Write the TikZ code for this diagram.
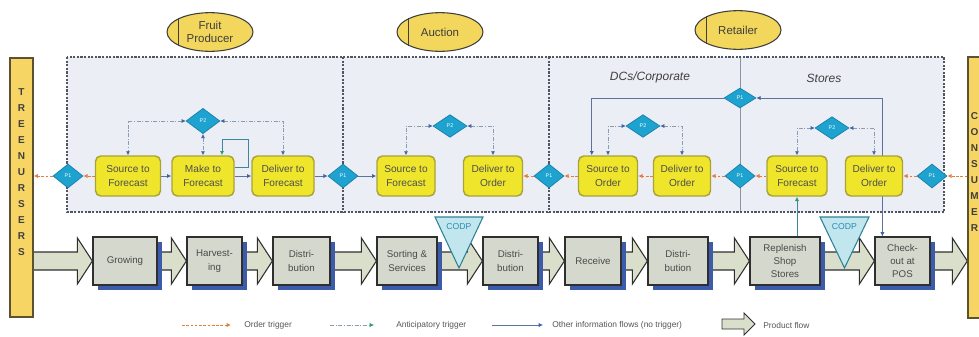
\documentclass[tikz,border=0pt]{standalone}
\usepackage{fontspec}
\setmainfont{Liberation Sans}
\usetikzlibrary{shapes.geometric,calc,arrows.meta,shadows}
\pgfdeclarelayer{back}
\pgfdeclarelayer{lines}
\pgfsetlayers{back,lines,main}

\definecolor{framefill}{HTML}{ECEEF6}
\definecolor{framedraw}{HTML}{50555F}
\definecolor{procfill}{HTML}{EFE62C}
\definecolor{procdraw}{HTML}{A9A23A}
\definecolor{proctext}{HTML}{4D4D4D}
\definecolor{actorfill}{HTML}{F3D65C}
\definecolor{ink}{HTML}{3F3F3F}
\definecolor{barfill}{HTML}{F6D564}
\definecolor{bardraw}{HTML}{5C5230}
\definecolor{diafill}{HTML}{1EA2CF}
\definecolor{diadraw}{HTML}{177EA6}
\definecolor{stagefill}{HTML}{D5D8CD}
\definecolor{stagedraw}{HTML}{2F2F2F}
\definecolor{stagetext}{HTML}{4A4A4A}
\definecolor{shadowblue}{HTML}{3C5BAA}
\definecolor{flowfill}{HTML}{D9DFCB}
\definecolor{codpfill}{HTML}{C2E6EE}
\definecolor{codpdraw}{HTML}{2F8196}
\definecolor{codptext}{HTML}{2A8DB6}
\definecolor{ordercol}{HTML}{E57D3A}
\definecolor{anticcol}{HTML}{8D9DB0}
\definecolor{tipblue}{HTML}{3F62A8}
\definecolor{tipgreen}{HTML}{2E9E6A}
\definecolor{infocol}{HTML}{5D739F}
\definecolor{retaildiv}{HTML}{8A93A3}
\definecolor{loopteal}{HTML}{3E86A0}
\definecolor{legendtext}{HTML}{555555}

% block arrow of the product flow, between two named nodes
\newcommand\flowarrow[2]{%
  \path[prodflow] let \p1=(#1.east), \p2=(#2.west), \p3=(flowline) in
    (\x1-1pt,\y3+6.75pt) -- (\x2-11.25pt,\y3+6.75pt) -- (\x2-11.25pt,\y3+17.25pt)
    -- (\x2,\y3) -- (\x2-11.25pt,\y3-17.25pt) -- (\x2-11.25pt,\y3-6.75pt)
    -- (\x1-1pt,\y3-6.75pt) -- cycle;}

\tikzset{
  proc/.style={draw=procdraw, fill=procfill, line width=1.1pt, rounded corners=4pt,
    minimum height=30pt, inner sep=1pt, align=center,
    font=\fontsize{7.6}{10}\selectfont, text=proctext},
  planD/.style={diamond, draw=diadraw, fill=diafill, line width=0.5pt, inner sep=0pt,
    minimum width=25.5pt, minimum height=17pt, font=\fontsize{4}{4}\selectfont, text=white},
  chainD/.style={planD, minimum width=22.5pt, minimum height=18pt},
  actor/.style={ellipse, draw=ink, fill=actorfill, line width=0.8pt,
    minimum width=64.5pt, minimum height=29pt, inner sep=0pt, align=center,
    font=\fontsize{8.6}{9.6}\selectfont, text=ink},
  endbar/.style={draw=bardraw, fill=barfill, line width=1pt, inner sep=0pt},
  barletters/.style={align=center, inner sep=0pt, text=ink,
    font=\fontsize{7.5}{12}\selectfont\bfseries},
  stage/.style={draw=stagedraw, fill=stagefill, line width=0.9pt, minimum height=36pt,
    inner sep=1pt, align=center, font=\fontsize{7.3}{10}\selectfont, text=stagetext,
    drop shadow={shadow xshift=3.5pt, shadow yshift=-4pt, fill=shadowblue, opacity=1}},
  prodflow/.style={draw=stagedraw, fill=flowfill, line width=0.8pt, line join=miter},
  framedash/.style={draw=framedraw, line width=1.1pt, dash pattern=on 1.6pt off 1.1pt},
  ordertrig/.style={draw=ordercol, line width=0.6pt, dash pattern=on 2pt off 1.2pt,
    -{Latex[length=3.2pt,width=3.2pt]}},
  antic/.style={draw=anticcol, line width=0.5pt,
    dash pattern=on 3pt off 1.2pt on 0.8pt off 1.2pt,
    {Latex[length=3pt,width=3pt,color=tipblue]}-{Latex[length=3pt,width=3pt,color=tipblue]}},
  anticup/.style={draw=loopteal, line width=0.6pt, -{Latex[length=3.2pt,width=3.2pt,color=tipgreen]}},
  selfloop/.style={draw=loopteal, line width=0.7pt, -{Latex[length=3.2pt,width=3.2pt,color=tipgreen]}},
  infoflow/.style={draw=infocol, line width=0.6pt, -{Latex[length=3.2pt,width=3.2pt,color=tipblue]}},
  infoboth/.style={draw=infocol, line width=0.6pt,
    {Latex[length=3.2pt,width=3.2pt,color=tipblue]}-{Latex[length=3.2pt,width=3.2pt,color=tipblue]}},
  region/.style={font=\fontsize{9}{10}\selectfont\itshape, text=ink},
  codplabel/.style={font=\fontsize{6.5}{7}\selectfont, text=codptext, inner sep=0pt},
  legend/.style={anchor=west, inner sep=0pt, font=\fontsize{6.3}{7}\selectfont, text=legendtext},
}

\begin{document}
\begin{tikzpicture}[x=0.75pt,y=-0.75pt]
\useasboundingbox (0,0) rectangle (979,336);
\coordinate (frameNW) at (67,57);
\coordinate (frameSE) at (944,212);
\coordinate (flowline) at (0,261);

% end points of the chain
\node[endbar, minimum width=17.25pt, minimum height=194.25pt] (tree) at (21.5,187.5) {};
\node[barletters] (treetext) at (21.5,172.5) {T\\R\\E\\E\\N\\U\\R\\S\\E\\R\\S};
\node[endbar, minimum width=10.5pt, minimum height=195.75pt] (cons) at (975,187.5) {};
\node[barletters] (constext) at (974.5,172) {C\\O\\N\\S\\U\\M\\E\\R};

% actors
\node[actor] (fruitP) at (210,32) {Fruit\\Producer};
\node[actor] (auction) at (440,32) {Auction};
\node[actor] (retailer) at (738,30) {Retailer};
\foreach \a in {fruitP,auction,retailer}
  \draw[ink, line width=0.8pt] (\a.156) -- (\a.204);

% region captions
\node[region] (dcs) at (650,77) {DCs/Corporate};
\node[region] (stores) at (824,78) {Stores};

% process elements
\node[proc, minimum width=48.75pt] (fpS) at (128,176) {Source to\\Forecast};
\node[proc, minimum width=46.5pt]  (fpM) at (203,176) {Make to\\Forecast};
\node[proc, minimum width=46.5pt]  (fpD) at (283,176) {Deliver to\\Forecast};
\node[proc, minimum width=43.5pt]  (auS) at (406,176) {Source to\\Forecast};
\node[proc, minimum width=44.25pt] (auD) at (493,176) {Deliver to\\Order};
\node[proc, minimum width=44.25pt] (reSO) at (608,176) {Source to\\Order};
\node[proc, minimum width=42.75pt] (reDO) at (682,176) {Deliver to\\Order};
\node[proc, minimum width=45pt]    (stSF) at (797,176) {Source to\\Forecast};
\node[proc, minimum width=42.75pt] (stDO) at (874,176) {Deliver to\\Order};

% chain decision points
\node[chainD] (d0) at (68,176) {P1};
\node[chainD] (d1) at (343,176) {P1};
\node[chainD] (d2) at (549,176) {P1};
\node[chainD] (d3) at (740,176) {P1};
\node[chainD] (d4) at (932,176) {P1};

% planning points
\node[planD, minimum height=19pt] (fpP) at (203,121) {P2};
\node[planD] (auP) at (450,126) {P2};
\node[planD] (reP) at (643,126) {P2};
\node[planD] (stP) at (832,128) {P2};
\node[planD, minimum width=24pt, minimum height=15pt] (rP) at (740,98) {P1};

% physical stages
\node[stage, minimum width=48pt]    (growing)   at (125,261)   {Growing};
\node[stage, minimum width=41.25pt] (harvest)   at (214.5,261) {Harvest-\\ing};
\node[stage, minimum width=42.75pt] (distA)     at (301.5,261) {Distri-\\bution};
\node[stage, minimum width=45pt]    (sorting)   at (407,261)   {Sorting \&\\Services};
\node[stage, minimum width=41.25pt] (distB)     at (510.5,261) {Distri-\\bution};
\node[stage, minimum width=42pt]    (receive)   at (593,261)   {Receive};
\node[stage, minimum width=45pt]    (distC)     at (678,261)   {Distri-\\bution};
\node[stage, minimum width=52.5pt]  (replenish) at (785,261)   {Replenish\\Shop\\Stores};
\node[stage, minimum width=41.25pt] (checkout)  at (902.5,261) {Check-\\out at\\POS};

% customer order decoupling points
\draw[draw=codpdraw, fill=codpfill, line width=0.8pt, line join=miter]
  (435,217) -- (483,217) -- (459,268) -- cycle;
\node[codplabel] (codpA) at (459,227) {CODP};
\draw[draw=codpdraw, fill=codpfill, line width=0.8pt, line join=miter]
  (820,217) -- (869,217) -- (844.5,268) -- cycle;
\node[codplabel] (codpB) at (844.5,227) {CODP};

% legend
\coordinate (lgOa) at (182,325); \coordinate (lgOb) at (231,325);
\node[legend] (lgO) at (244,325) {Order trigger};
\coordinate (lgAa) at (330,325); \coordinate (lgAb) at (374,325);
\node[legend] (lgA) at (396,325) {Anticipatory trigger};
\coordinate (lgIa) at (492,325); \coordinate (lgIb) at (543,325);
\node[legend] (lgI) at (552,325) {Other information flows (no trigger)};
\node[legend] (lgP) at (763,325) {Product flow};
\draw[prodflow, line width=0.7pt] (722,319) -- (744,319) -- (744,313) -- (755,324)
  -- (744,335) -- (744,329) -- (722,329) -- cycle;
\draw[ordertrig] (lgOa) -- (lgOb);
\draw[draw=anticcol, line width=0.5pt, dash pattern=on 3pt off 1.2pt on 0.8pt off 1.2pt,
  -{Latex[length=3.2pt,width=3.2pt,color=tipgreen]}] (lgAa) -- (lgAb);
\draw[infoflow] (lgIa) -- (lgIb);

% frame of the information layer
\begin{pgfonlayer}{back}
  \fill[framefill] (frameNW) rectangle (frameSE);
  \draw[draw=retaildiv, line width=0.6pt] (rP |- frameNW) -- (rP |- frameSE);
  \draw[framedash] (frameNW) rectangle (frameSE);
  \draw[framedash] (d1 |- frameNW) -- (d1 |- frameSE);
  \draw[framedash] (d2 |- frameNW) -- (d2 |- frameSE);
\end{pgfonlayer}

\begin{pgfonlayer}{lines}
  % order triggers
  \draw[ordertrig] (d0.west) -- (d0.west -| tree.east);
  \draw[ordertrig] (fpS.west) -- (d0.east);
  \draw[ordertrig] (d2.west) -- (auD.east);
  \draw[ordertrig] (reSO.west) -- (d2.east);
  \draw[ordertrig] (reDO.west) -- (reSO.east);
  \draw[ordertrig] (d3.west) -- (reDO.east);
  \draw[ordertrig] (stSF.west) -- (d3.east);
  \draw[ordertrig] (d4.west) -- (stDO.east);
  \draw[ordertrig] (d4.east -| cons.west) -- (d4.east);
  % information flows
  \draw[infoflow] (fpS.east) -- (fpM.west);
  \draw[infoflow] (fpM.east) -- (fpD.west);
  \draw[infoflow] (fpD.east) -- (d1.west);
  \draw[infoflow] (d1.east) -- (auS.west);
  \draw[infoflow] (rP.west) -| ([xshift=10.5pt]reSO.north west);
  \draw[infoboth] (rP.east) -| ([xshift=6pt]checkout.north west);
  % anticipatory triggers
  \draw[antic] (fpP.west) -| (fpS.north);
  \draw[antic] (fpP.east) -| (fpD.north);
  \draw[antic] (fpP.south) -- (fpM.north);
  \draw[antic] (auP.west) -| (auS.north);
  \draw[antic] (auP.east) -| (auD.north);
  \draw[antic] (reP.west) -| (reSO.north);
  \draw[antic] (reP.east) -| (reDO.north);
  \draw[antic] (stP.west) -| (stSF.north);
  \draw[antic] (stP.east) -| (stDO.north);
  \draw[anticup] (stSF.south |- replenish.north) -- (stSF.south);
  \draw[selfloop] ([yshift=6.75pt]fpM.east) -- ++(14,0) -- ++(0,-28)
    -| ([xshift=14.25pt]fpM.north);
  % product flow
  \flowarrow{tree}{growing}
  \flowarrow{growing}{harvest}
  \flowarrow{harvest}{distA}
  \flowarrow{distA}{sorting}
  \flowarrow{sorting}{distB}
  \flowarrow{distB}{receive}
  \flowarrow{receive}{distC}
  \flowarrow{distC}{replenish}
  \flowarrow{replenish}{checkout}
  \flowarrow{checkout}{cons}
\end{pgfonlayer}
\end{tikzpicture}
\end{document}
